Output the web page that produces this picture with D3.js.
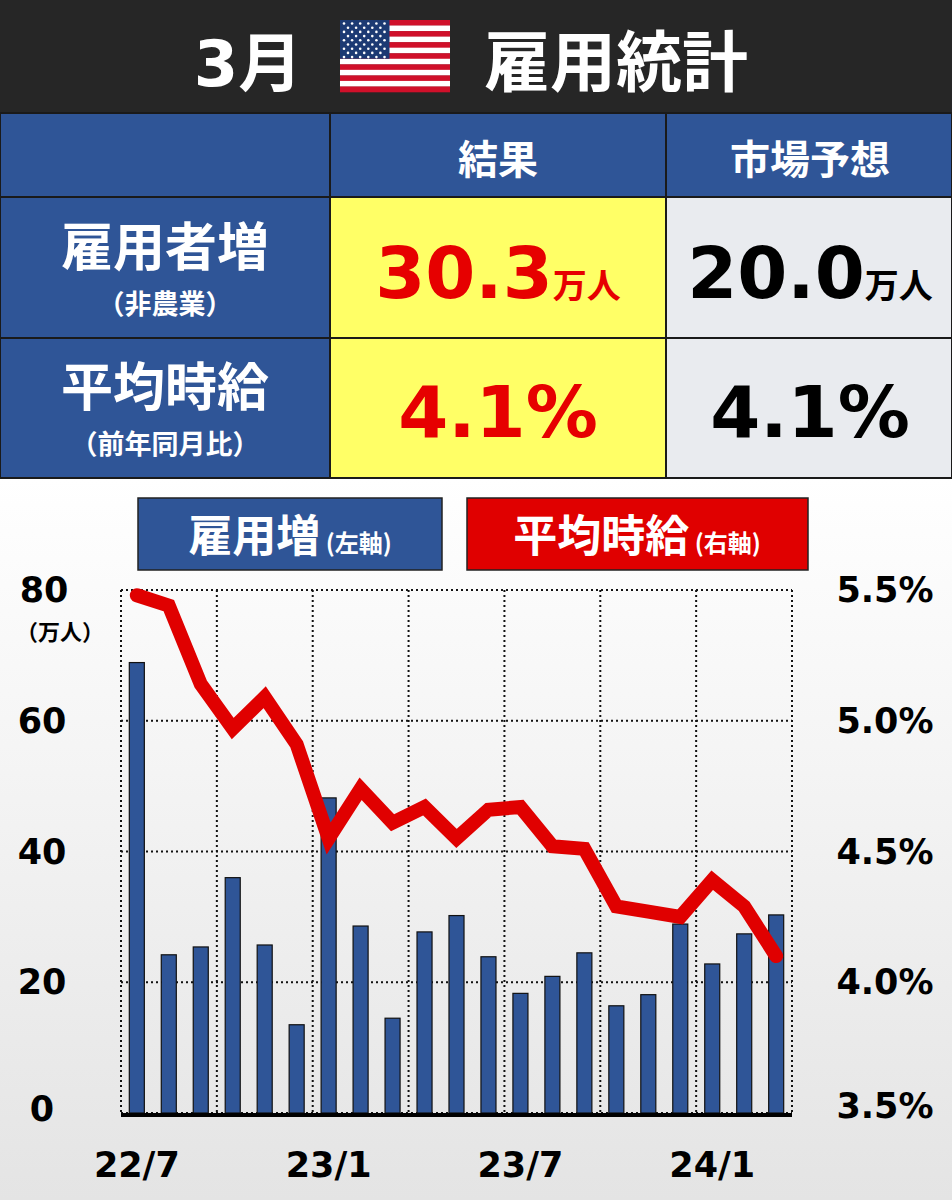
<!DOCTYPE html>
<html><head><meta charset="utf-8">
<script src="https://cdn.jsdelivr.net/npm/d3@7"></script>
<style>body{margin:0;background:#fff}svg{display:block;font-family:"Noto Sans CJK JP","Noto Sans",sans-serif;font-weight:700}</style>
</head><body><svg id="c" width="952" height="1200"></svg>
<script>
const months=["22/7","22/8","22/9","22/10","22/11","22/12","23/1","23/2","23/3","23/4","23/5","23/6","23/7","23/8","23/9","23/10","23/11","23/12","24/1","24/2","24/3"];
const jobs=[68.9,24.2,25.4,36.0,25.7,13.5,48.2,28.6,14.5,27.7,30.2,23.9,18.3,20.9,24.5,16.4,18.1,28.9,22.8,27.4,30.3];
const wages=[5.48,5.44,5.14,4.97,5.09,4.91,4.55,4.74,4.61,4.67,4.55,4.66,4.67,4.52,4.51,4.29,4.27,4.25,4.39,4.29,4.1];
const leftTicks=[0,20,40,60,80];
const rightTicks=[3.5,4.0,4.5,5.0,5.5];
const xLabels=["22/7","23/1","23/7","24/1"];
const NUM="DejaVu Sans, Verdana, sans-serif";

const svg=d3.select("#c");
const defs=svg.append("defs");
const g=defs.append("linearGradient").attr("id","bg").attr("x1",0).attr("y1",0).attr("x2",0).attr("y2",1);
g.append("stop").attr("offset","0").attr("stop-color","#ffffff");
g.append("stop").attr("offset","1").attr("stop-color","#e4e4e4");
svg.append("rect").attr("x",0).attr("y",478).attr("width",952).attr("height",722).attr("fill","url(#bg)");

svg.append("rect").attr("width",952).attr("height",113).attr("fill","#262626");
const t=(x,y,s,sz,fill,anchor="middle")=>svg.append("text").attr("x",x).attr("y",y).attr("text-anchor",anchor).attr("font-size",sz).attr("fill",fill).text(s);
const e0=t(248,86,"",64,"#fff");e0.append("tspan").attr("font-family",NUM).text("3");e0.append("tspan").text("月");
const fx=340,fy=20,fw=110,fh=72,fl=svg.append("g");
for(let i=0;i<13;i++)fl.append("rect").attr("x",fx).attr("y",fy+i*fh/13).attr("width",fw).attr("height",fh/13+0.3).attr("fill",i%2?"#fff":"#d0102a");
fl.append("rect").attr("x",fx).attr("y",fy).attr("width",fw*0.45).attr("height",fh*7/13).attr("fill","#1c3a73");
for(let r=0;r<9;r++){const n=r%2?5:6;for(let c=0;c<n;c++)fl.append("circle").attr("cx",fx+4+(r%2?4:0)+c*8.1).attr("cy",fy+3.5+r*4.2).attr("r",1.3).attr("fill","#fff");}
t(616,86,"雇用統計",66,"#fff");

const blue="#2f5597";
const cell=(x0,x1,y0,y1,f)=>svg.append("rect").attr("x",x0).attr("y",y0).attr("width",x1-x0).attr("height",y1-y0).attr("fill",f).attr("stroke","#1a1a1a").attr("stroke-width",2);
cell(0,330,113,197,blue);cell(330,666,113,197,blue);cell(666,952,113,197,blue);
cell(0,330,197,338,blue);cell(330,666,197,338,"#ffff66");cell(666,952,197,338,"#e9ebef");
cell(0,330,338,478,blue);cell(330,666,338,478,"#ffff66");cell(666,952,338,478,"#e9ebef");
t(498,174,"結果",40,"#fff");t(810,174,"市場予想",40,"#fff");
t(165,266,"雇用者増",52,"#fff");t(165,314,"（非農業）",27,"#fff");
t(165,406,"平均時給",52,"#fff");t(165,454,"（前年同月比）",27,"#fff");
const rich=(x,y,big,small,fill)=>{const e=svg.append("text").attr("x",x).attr("y",y).attr("text-anchor","middle").attr("fill",fill).attr("font-family",NUM);
 e.append("tspan").attr("font-size",72).text(big);if(small)e.append("tspan").attr("font-size",34).attr("font-family","Noto Sans CJK JP").text(small);};
rich(498,298,"30.3","万人","#e60000");rich(810,298,"20.0","万人","#000");
rich(498,437,"4.1%","","#e60000");rich(810,437,"4.1%","","#000");

svg.append("rect").attr("x",138).attr("y",498).attr("width",304).attr("height",72).attr("fill",blue).attr("stroke","#222").attr("stroke-width",1.5);
svg.append("rect").attr("x",467).attr("y",498).attr("width",341).attr("height",72).attr("fill","#e00000").attr("stroke","#222").attr("stroke-width",1.5);
let e=t(290,552,"",44,"#fff");e.append("tspan").text("雇用増");e.append("tspan").attr("font-size",24).text(" (左軸)");
e=t(637,552,"",44,"#fff");e.append("tspan").text("平均時給");e.append("tspan").attr("font-size",24).text(" (右軸)");

const L=121,R=792,T=590,B=1113;
const x=d3.scaleBand().domain(months).range([L,R]).paddingInner(0.53).paddingOuter(0.26);
const yL=d3.scaleLinear().domain([0,80]).range([B,T]);
const yR=d3.scaleLinear().domain([3.5,5.5]).range([B,T]);
const grid=svg.append("g").attr("stroke","#111").attr("stroke-width",2).attr("stroke-dasharray","2,3");
leftTicks.forEach(v=>grid.append("line").attr("x1",L).attr("x2",R).attr("y1",yL(v)).attr("y2",yL(v)));
const step=(R-L)/7;
for(let i=0;i<=7;i++)grid.append("line").attr("x1",L+i*step).attr("x2",L+i*step).attr("y1",T).attr("y2",B);
svg.append("g").selectAll("rect").data(jobs).join("rect")
 .attr("x",(d,i)=>x(months[i])).attr("width",x.bandwidth()).attr("y",d=>yL(d)).attr("height",d=>B-yL(d))
 .attr("fill","#2f5597").attr("stroke","#111").attr("stroke-width",1.2);
svg.append("line").attr("x1",L).attr("x2",R).attr("y1",B+2).attr("y2",B+2).attr("stroke","#000").attr("stroke-width",4);
svg.append("path").datum(wages).attr("fill","none").attr("stroke","#e00000").attr("stroke-width",14).attr("stroke-linejoin","miter").attr("stroke-linecap","round")
 .attr("d",d3.line().x((d,i)=>x(months[i])+x.bandwidth()/2).y(d=>yR(d)));
const ax=svg.append("g").attr("font-family",NUM).attr("font-size",35).attr("fill","#000");
leftTicks.forEach(v=>ax.append("text").attr("x",v==80?44:42).attr("y",yL(v)+(v==0?8:12)).attr("text-anchor","middle").text(v));
t(60,640,"（万人）",22,"#000");
rightTicks.forEach(v=>ax.append("text").attr("x",885).attr("y",yR(v)+(v==3.5?5:12)).attr("text-anchor","middle").text(v.toFixed(1)+"%"));
xLabels.forEach(s=>ax.append("text").attr("x",x(s)+x.bandwidth()/2).attr("y",1177).attr("text-anchor","middle").text(s));
</script></body></html>
